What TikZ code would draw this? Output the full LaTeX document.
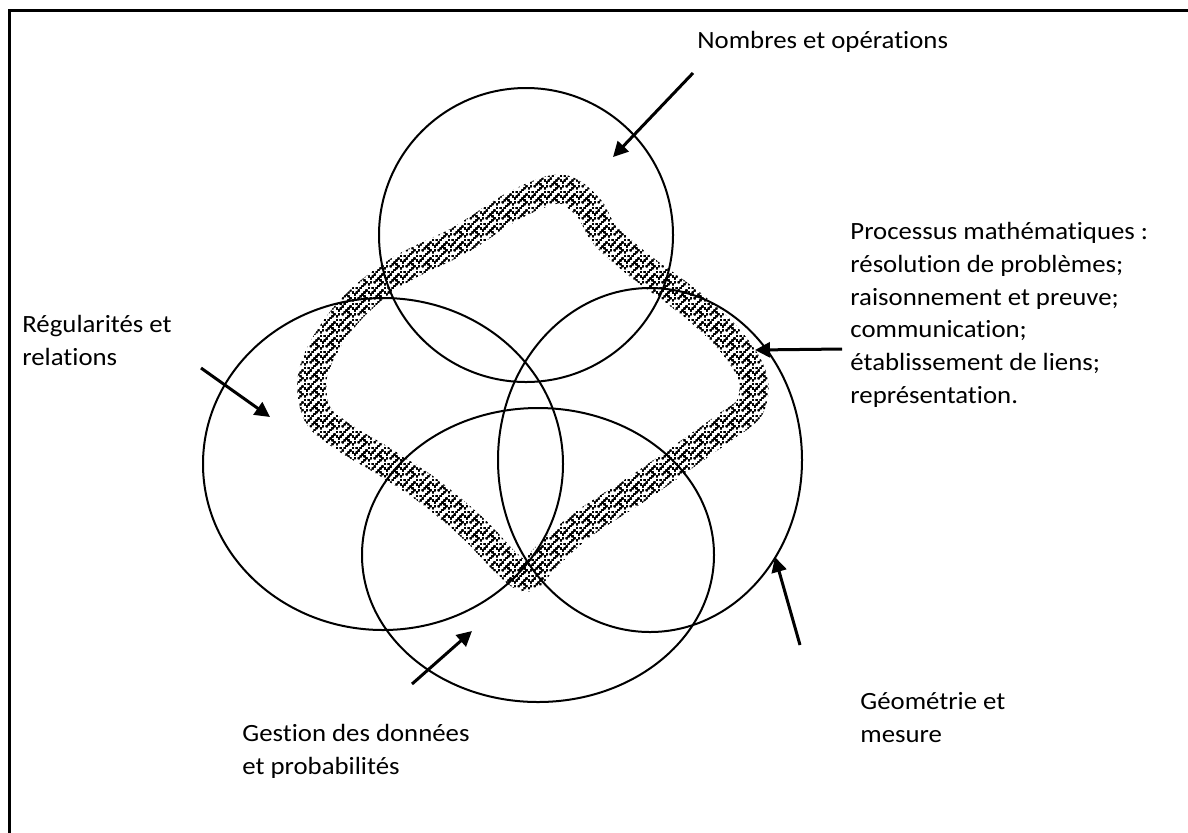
\documentclass[tikz,border=0pt]{standalone}
\usepackage{fontspec}
\setmainfont{Carlito}[FakeStretch=1.08,RawFeature={-liga}]
\usetikzlibrary{arrows.meta,patterns,decorations.markings,shapes.geometric}
\newcommand\mzdot[2]{\pgfpathrectangle{\pgfqpoint{#1pt}{#2pt}}{\pgfqpoint{0.9pt}{0.9pt}}}
\pgfdeclarepatternformonly{maze}{\pgfqpoint{0pt}{0pt}}{\pgfqpoint{8pt}{8pt}}{\pgfqpoint{8pt}{8pt}}{%
  \mzdot{0.05}{0.05}\mzdot{2.05}{0.05}\mzdot{4.05}{0.05}%
  \mzdot{5.05}{1.05}%
  \mzdot{0.05}{2.05}\mzdot{6.05}{2.05}%
  \mzdot{1.05}{3.05}\mzdot{3.05}{3.05}\mzdot{7.05}{3.05}%
  \mzdot{4.05}{4.05}\mzdot{6.05}{4.05}%
  \mzdot{1.05}{5.05}\mzdot{5.05}{5.05}%
  \mzdot{0.05}{6.05}\mzdot{2.05}{6.05}\mzdot{6.05}{6.05}%
  \mzdot{3.05}{7.05}\mzdot{7.05}{7.05}%
  \pgfusepath{fill}}
\begin{document}
\begin{tikzpicture}[x=0.5pt,y=-0.5pt,
  ring/.style={draw, line width=1pt, inner sep=0pt, outer sep=0pt},
  lab/.style={anchor=base west, inner sep=0pt, font=\fontsize{12.4}{16.4}\selectfont},
  pointer/.style={line width=1.5pt, -{Triangle[length=7.5pt,width=7.5pt]}},
  frameline/.style={line width=1.5pt},
  band/.style={decorate, decoration={markings, mark=between positions 0 and 1 step 1.5pt with {\fill[pattern=maze] (0,0) circle (7.3pt);}}}]

\fill[white] (0,0) rectangle (1188,832);
\useasboundingbox (0,0) rectangle (1188,832);

% frame (only top and left edges visible)
\coordinate (fbl) at (9,840);
\coordinate (ftl) at (9,10.5);
\coordinate (ftr) at (1196,10.5);
\draw[frameline] (fbl) -- (ftl) -- (ftr);

% hatched band (processus)
\path[band] plot[smooth cycle, tension=0.55] coordinates {
  (560,189) (588,207) (605,235) (640,266) (690,303) (728,338) (752,375)
  (750,407) (725,427) (690,452) (640,487) (582,525) (545,558) (527,577)
  (505,562) (475,530) (430,492) (385,462) (345,438) (318,415) (312,380)
  (325,345) (355,305) (400,270) (460,240) (515,205)};

% circles
\node[ring, circle, minimum size=147pt] (nomb) at (526,235) {};
\node[ring, ellipse, minimum width=180pt, minimum height=166pt] (regu) at (383,464) {};
\node[ring, ellipse, minimum width=152pt, minimum height=172pt] (geom) at (650,460) {};
\node[ring, ellipse, minimum width=176pt, minimum height=147pt] (gest) at (538,555) {};

% labels
\node[lab] (tnomb) at (697,48) {Nombres et opérations};
\node[lab] (tproc1) at (850,239) {Processus mathématiques :};
\node[lab] (tproc2) at (850,272) {résolution de problèmes;};
\node[lab] (tproc3) at (850,305) {raisonnement et preuve;};
\node[lab] (tproc4) at (850,337) {communication;};
\node[lab] (tproc5) at (850,370) {établissement de liens;};
\node[lab] (tproc6) at (850,403) {représentation.};
\node[lab] (tregu1) at (22,332) {Régularités et};
\node[lab] (tregu2) at (22,365) {relations};
\node[lab] (tgest1) at (242,741) {Gestion des données};
\node[lab] (tgest2) at (242,774) {et probabilités};
\node[lab] (tgeom1) at (860,709) {Géométrie et};
\node[lab] (tgeom2) at (860,742) {mesure};

% arrows
\coordinate (anS) at (693,73);  \coordinate (anE) at (613,157);
\coordinate (apS) at (842,349); \coordinate (apE) at (755,350);
\coordinate (arS) at (201,368); \coordinate (arE) at (270,417);
\coordinate (agS) at (412,684); \coordinate (agE) at (472,631);
\coordinate (amS) at (800,645); \coordinate (amE) at (775,557);
\draw[pointer] (anS) -- (anE);
\draw[pointer] (apS) -- (apE);
\draw[pointer] (arS) -- (arE);
\draw[pointer] (agS) -- (agE);
\draw[pointer] (amS) -- (amE);
\end{tikzpicture}
\end{document}
